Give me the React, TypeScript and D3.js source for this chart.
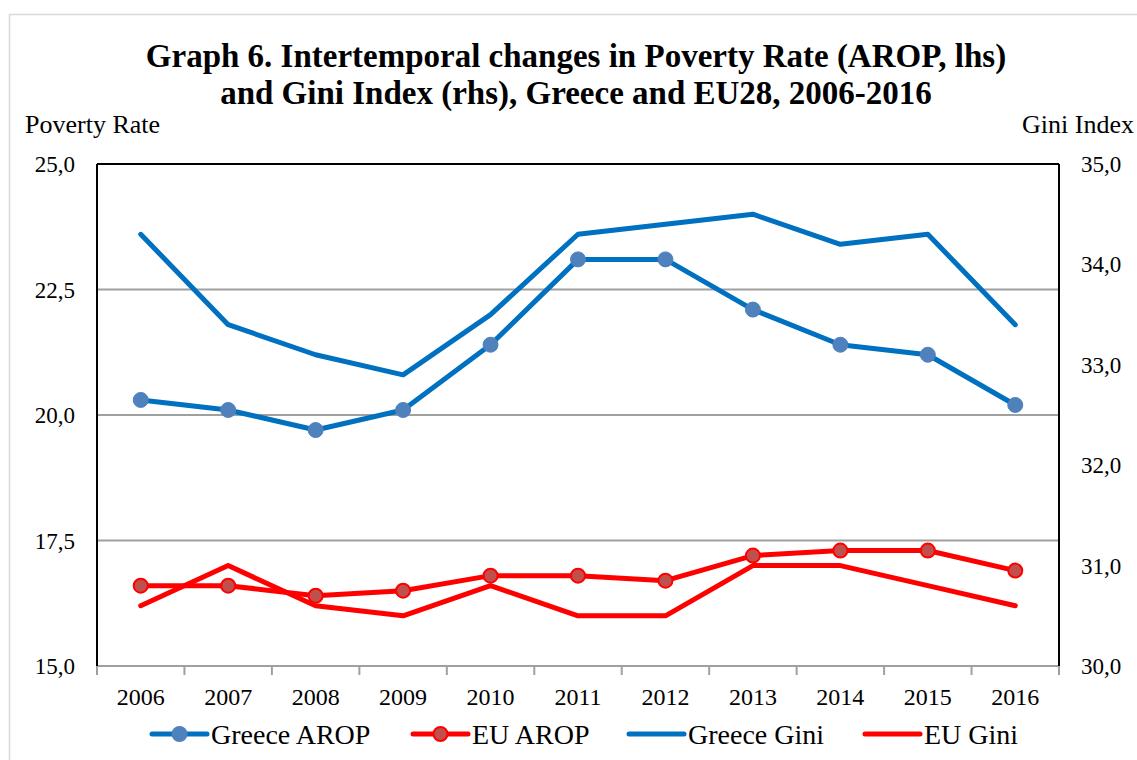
import { scaleBand, scaleLinear, line } from "d3";

const W = 1137;
const H = 760;

const years = ["2006", "2007", "2008", "2009", "2010", "2011", "2012", "2013", "2014", "2015", "2016"];
const greeceArop = [20.3, 20.1, 19.7, 20.1, 21.4, 23.1, 23.1, 22.1, 21.4, 21.2, 20.2];
const euArop = [16.6, 16.6, 16.4, 16.5, 16.8, 16.8, 16.7, 17.2, 17.3, 17.3, 16.9];
const greeceGini = [34.3, 33.4, 33.1, 32.9, 33.5, 34.3, 34.4, 34.5, 34.2, 34.3, 33.4];
const euGini = [30.6, 31.0, 30.6, 30.5, 30.8, 30.5, 30.5, 31.0, 31.0, 30.8, 30.6];
const leftTicks = [15, 17.5, 20, 22.5, 25];
const rightTicks = [30, 31, 32, 33, 34, 35];

const legendItems = [
  { name: "Greece AROP", color: "#0070C0", marker: "#4F81BD", mStroke: "#4F81BD", x: 152 },
  { name: "EU AROP", color: "#FF0000", marker: "#C0504D", mStroke: "#FF0000", x: 413 },
  { name: "Greece Gini", color: "#0070C0", marker: null, mStroke: null, x: 629 },
  { name: "EU Gini", color: "#FF0000", marker: null, mStroke: null, x: 865 },
];

const font = "'Liberation Serif', 'Times New Roman', serif";

export default function App() {
  const left = 97;
  const right = 1059;
  const top = 164;
  const bottom = 666;

  const x = scaleBand().domain(years).range([left, right]);
  const yL = scaleLinear().domain([15, 25]).range([bottom, top]);
  const yR = scaleLinear().domain([30, 35]).range([bottom, top]);
  const cx = (d: string) => (x(d) as number) + x.bandwidth() / 2;

  const lineL = line<number>().x((_, i) => cx(years[i])).y((v) => yL(v));
  const lineR = line<number>().x((_, i) => cx(years[i])).y((v) => yR(v));

  const fmt = (v: number) => v.toFixed(1).replace(".", ",");
  const boundaries = [...years.map((d) => x(d) as number), right];

  return (
    <svg width={W} height={H} style={{ position: "absolute", left: 0, top: 0 }} fontFamily={font}>
      <rect x={0} y={0} width={W} height={H} fill="#fff" />
      <rect x={9.5} y={14.5} width={1200} height={900} fill="none" stroke="#d9d9d9" strokeWidth={1.5} />

      <text x={576} y={67} textAnchor="middle" fontSize={33} fontWeight="bold">
        Graph 6. Intertemporal changes in Poverty Rate (AROP, lhs)
      </text>
      <text x={576} y={104} textAnchor="middle" fontSize={33} fontWeight="bold">
        and Gini Index (rhs), Greece and EU28, 2006-2016
      </text>
      <text x={25} y={133} fontSize={26}>Poverty Rate</text>
      <text x={1134} y={133} fontSize={26} textAnchor="end">Gini Index</text>

      {/* gridlines */}
      {leftTicks.slice(1, -1).map((t) => (
        <line key={t} x1={left} x2={right} y1={yL(t)} y2={yL(t)} stroke="#a0a0a0" strokeWidth={2} />
      ))}
      {/* x axis */}
      <line x1={left} x2={right} y1={bottom} y2={bottom} stroke="#a0a0a0" strokeWidth={2} />
      {boundaries.map((b, i) => (
        <line key={i} x1={b} x2={b} y1={bottom} y2={bottom + 9} stroke="#a0a0a0" strokeWidth={2} />
      ))}
      {/* frame */}
      <line x1={left} x2={right} y1={top} y2={top} stroke="#000" strokeWidth={2} />
      <line x1={left} x2={left} y1={top} y2={bottom} stroke="#000" strokeWidth={2} />
      <line x1={right} x2={right} y1={top} y2={bottom} stroke="#000" strokeWidth={2} />

      {leftTicks.map((t) => (
        <text key={t} x={75} y={yL(t)} dy="0.35em" textAnchor="end" fontSize={23}>
          {fmt(t)}
        </text>
      ))}
      {rightTicks.map((t) => (
        <text key={t} x={1081} y={yR(t)} dy="0.35em" fontSize={23}>
          {fmt(t)}
        </text>
      ))}
      {years.map((d) => (
        <text key={d} x={cx(d)} y={705} textAnchor="middle" fontSize={24}>
          {d}
        </text>
      ))}

      {/* series */}
      <path d={lineR(greeceGini) as string} fill="none" stroke="#0070C0" strokeWidth={5} strokeLinecap="round" strokeLinejoin="round" />
      <path d={lineR(euGini) as string} fill="none" stroke="#FF0000" strokeWidth={5} strokeLinecap="round" strokeLinejoin="round" />
      <path d={lineL(greeceArop) as string} fill="none" stroke="#0070C0" strokeWidth={5} strokeLinecap="round" strokeLinejoin="round" />
      {greeceArop.map((v, i) => (
        <circle key={i} cx={cx(years[i])} cy={yL(v)} r={7.5} fill="#4F81BD" stroke="#4F81BD" strokeWidth={1} />
      ))}
      <path d={lineL(euArop) as string} fill="none" stroke="#FF0000" strokeWidth={5} strokeLinecap="round" strokeLinejoin="round" />
      {euArop.map((v, i) => (
        <circle key={i} cx={cx(years[i])} cy={yL(v)} r={7} fill="#C0504D" stroke="#FF0000" strokeWidth={2} />
      ))}

      {/* legend */}
      {legendItems.map((it) => (
        <g key={it.name}>
          <line x1={it.x} x2={it.x + 55} y1={734} y2={734} stroke={it.color} strokeWidth={5} strokeLinecap="round" />
          {it.marker && (
            <circle cx={it.x + 27.5} cy={734} r={7} fill={it.marker} stroke={it.mStroke as string} strokeWidth={2} />
          )}
          <text x={it.x + 59} y={734} dy="0.35em" fontSize={28}>
            {it.name}
          </text>
        </g>
      ))}
    </svg>
  );
}
